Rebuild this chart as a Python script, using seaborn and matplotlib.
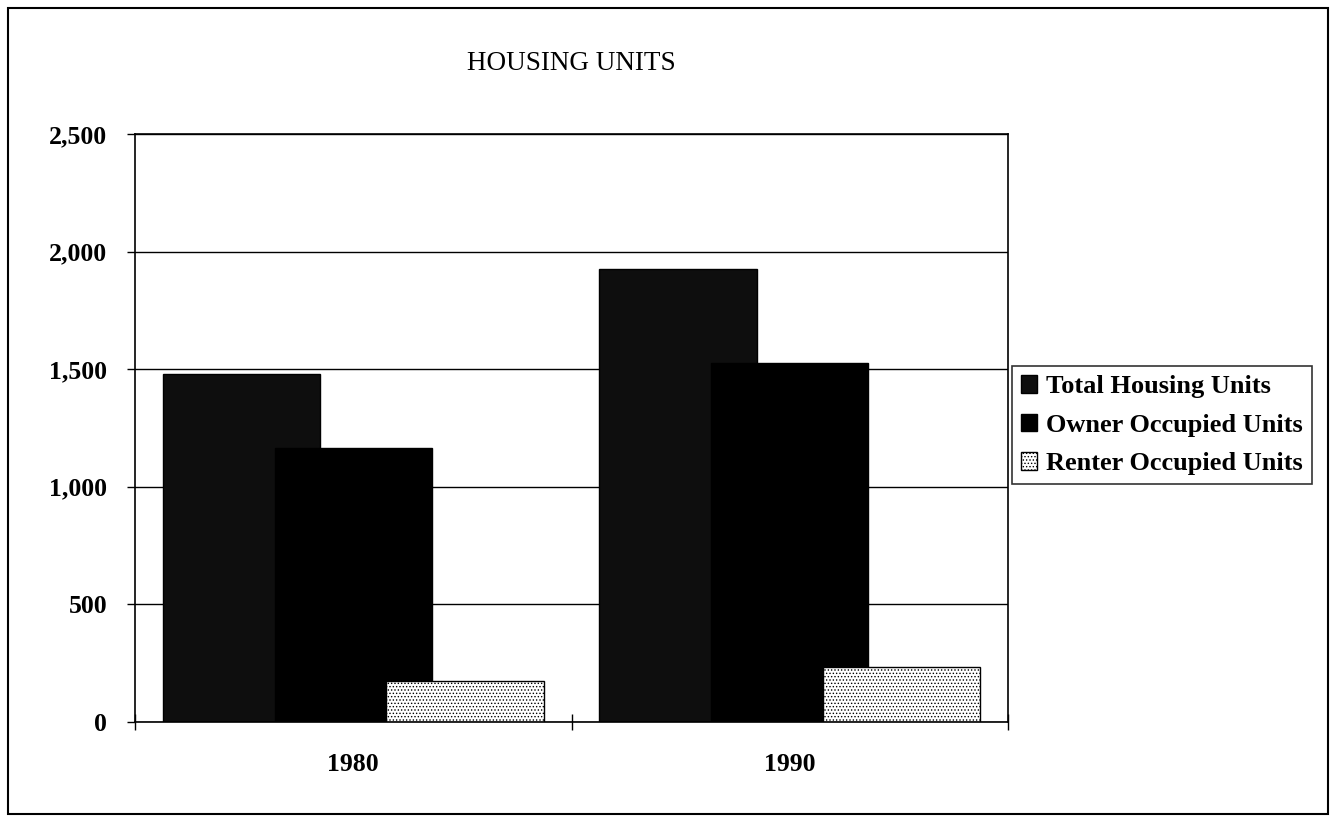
import numpy as np
import pandas as pd
import matplotlib
matplotlib.use("Agg")
import matplotlib.pyplot as plt
from matplotlib.patches import Rectangle
from matplotlib.ticker import FuncFormatter, FixedLocator
import seaborn as sns

# data
years = ["1980", "1990"]
series = ["Total Housing Units", "Owner Occupied Units", "Renter Occupied Units"]
total_units = [1480, 1925]
owner_units = [1165, 1525]
renter_units = [175, 235]

sns.set_style("white")
plt.rcParams["font.family"] = ["Liberation Serif", "DejaVu Serif"]
plt.rcParams["hatch.linewidth"] = 0.6
plt.rcParams["text.color"] = "black"
plt.rcParams["xtick.color"] = "black"
plt.rcParams["ytick.color"] = "black"

df = pd.DataFrame({
    "year": years * 3,
    "series": np.repeat(series, len(years)),
    "units": total_units + owner_units + renter_units,
})

colors = {series[0]: "#0e0e0e", series[1]: "#000000", series[2]: "#ffffff"}

fig = plt.figure(figsize=(13.35, 8.17), dpi=100)
ax = fig.add_axes([135 / 1335, 1 - 722 / 817, 873 / 1335, 588 / 817])

sns.barplot(data=df, x="year", y="units", hue="series", hue_order=series,
            order=years, palette=colors, width=0.768, dodge=True,
            edgecolor="black", linewidth=1, saturation=1, legend=False, ax=ax)

# widen bars so neighbours overlap like the original
for i, cont in enumerate(ax.containers):
    for bar in cont:
        c = bar.get_x() + bar.get_width() / 2
        bar.set_width(0.36)
        bar.set_x(c - 0.18)
        if i == 2:
            bar.set_hatch(".....")

ax.set_xlim(-0.5, 1.5)
ax.set_ylim(0, 2500)
ax.set_yticks(np.arange(0, 2501, 500))
ax.yaxis.set_major_formatter(FuncFormatter(lambda v, p: f"{int(v):,}"))
ax.yaxis.grid(True, color="black", linewidth=1)
ax.set_axisbelow(True)

for s in ax.spines.values():
    s.set_visible(True)
    s.set_color("black")
    s.set_linewidth(1.2)

ax.set_xlabel("")
ax.set_ylabel("")
ax.tick_params(axis="y", direction="out", length=6, width=1, pad=14,
               labelsize=18.5, left=True)
ax.tick_params(axis="x", which="major", length=0, pad=22, labelsize=18.5)
ax.xaxis.set_minor_locator(FixedLocator([-0.5, 0.5, 1.5]))
ax.tick_params(axis="x", which="minor", direction="inout", length=12,
               width=1, bottom=True)
for lab in ax.get_xticklabels() + ax.get_yticklabels():
    lab.set_fontweight("bold")

ax.set_title("HOUSING UNITS", fontsize=19.5, pad=46)

leg = ax.legend(ax.containers, series, loc="center left",
                bbox_to_anchor=(1.0, 0.505), borderaxespad=0.15,
                frameon=True, fancybox=False, edgecolor="black",
                handlelength=0.6, handleheight=0.65, handletextpad=0.35,
                labelspacing=0.58, borderpad=0.35,
                prop={"weight": "bold", "size": 19})
leg.get_frame().set_linewidth(1.2)

# outer chart border
fig.patches.append(Rectangle((0.006, 0.004), 0.989, 0.986,
                             transform=fig.transFigure, fill=False,
                             edgecolor="black", linewidth=1.5))

fig.savefig("out.png", dpi=100)
